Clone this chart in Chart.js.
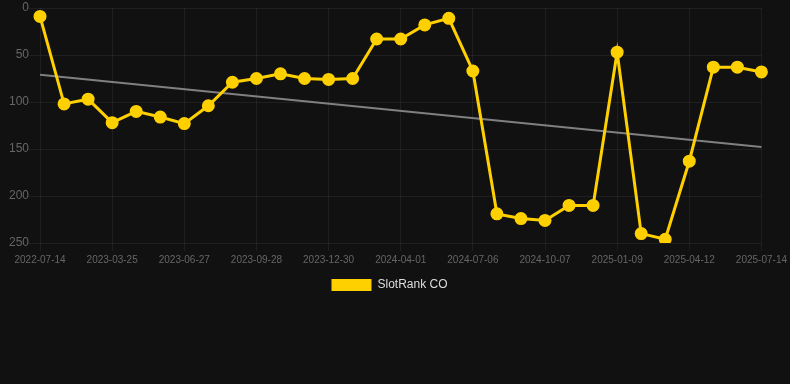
<!DOCTYPE html>
<html>
<head>
<meta charset="utf-8">
<script src="https://cdn.jsdelivr.net/npm/chart.js@4/dist/chart.umd.min.js"></script>
<style>
html,body{margin:0;padding:0;background:#111111;}
#wrap{width:790px;height:301px;position:relative;}
</style>
</head>
<body>
<div id="wrap"><canvas id="c"></canvas></div>
<script>
const labels = [
  "2022-07-14","2022-10-12","2023-01-10","2023-03-25","2023-04-25","2023-05-26",
  "2023-06-27","2023-07-28","2023-08-28","2023-09-28","2023-10-29","2023-11-29",
  "2023-12-30","2024-01-30","2024-03-01","2024-04-01","2024-05-03","2024-06-04",
  "2024-07-06","2024-08-06","2024-09-06","2024-10-07","2024-11-07","2024-12-09",
  "2025-01-09","2025-02-09","2025-03-12","2025-04-12","2025-05-13","2025-06-13",
  "2025-07-14"
];
const rankValues = [
  9, 102, 97, 122, 110, 116, 123, 104, 79, 75, 70, 75,
  76, 75, 33, 33, 18, 11, 67, 219, 224, 226, 210, 210,
  47, 240, 246, 163, 63, 63, 68
];
const trendValues = [71].concat(new Array(29).fill(null), [148]);
const seriesName = "SlotRank CO";
const yTicks = [0, 50, 100, 150, 200, 250];

new Chart(document.getElementById('c'), {
  type: 'line',
  data: {
    labels: labels,
    datasets: [
      {
        label: seriesName,
        data: rankValues,
        borderColor: '#FFD000',
        backgroundColor: '#FFD000',
        borderWidth: 3,
        pointRadius: 5,
        pointBackgroundColor: '#FFD000',
        pointBorderColor: '#FFD000',
        tension: 0,
        order: 1
      },
      {
        label: 'trend',
        data: trendValues,
        spanGaps: true,
        borderColor: '#808080',
        borderWidth: 2,
        pointRadius: 0,
        tension: 0,
        order: 2
      }
    ]
  },
  options: {
    responsive: true,
    maintainAspectRatio: false,
    animation: false,
    layout: { padding: { left: 9, right: 20, top: 0, bottom: 0 } },
    plugins: {
      legend: {
        position: 'bottom',
        labels: {
          color: '#dddddd',
          font: { size: 12, family: 'Liberation Sans, Arial, sans-serif' },
          boxWidth: 40,
          boxHeight: 12,
          generateLabels: (chart) => [{
            text: seriesName,
            fillStyle: '#FFD000',
            strokeStyle: '#FFD000',
            lineWidth: 0,
            hidden: false,
            datasetIndex: 0,
            fontColor: '#dddddd'
          }]
        }
      },
      tooltip: { enabled: false }
    },
    scales: {
      x: {
        grid: { color: 'rgba(255,255,255,0.06)', drawTicks: true, tickLength: 8 },
        border: { display: false },
        ticks: {
          color: '#666666',
          autoSkip: false,
          maxRotation: 0,
          font: { size: 10, family: 'Liberation Sans, Arial, sans-serif' },
          callback: function(v, i) { return i % 3 === 0 ? labels[i] : null; }
        }
      },
      y: {
        reverse: true,
        min: 0,
        max: 250,
        grid: { color: 'rgba(255,255,255,0.06)', tickLength: 11 },
        border: { display: false },
        afterBuildTicks: (ax) => { ax.ticks = yTicks.map(v => ({ value: v })); },
        ticks: {
          color: '#666666',
          padding: 0,
          font: { size: 12, lineHeight: 0.82, family: 'Liberation Sans, Arial, sans-serif' }
        }
      }
    }
  }
});
</script>
</body>
</html>
